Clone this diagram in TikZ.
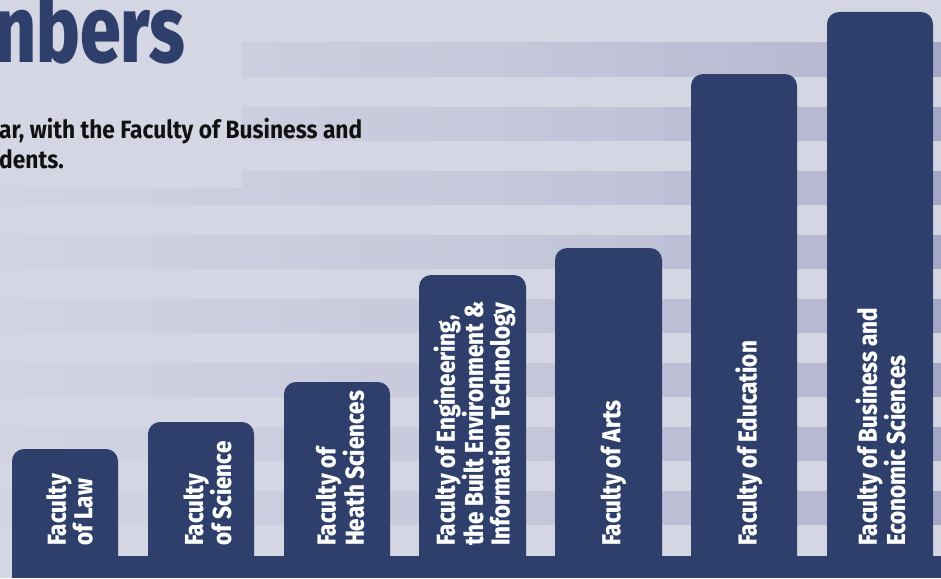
\documentclass[tikz,border=0pt]{standalone}
\usepackage{fontspec}
\newfontfamily\condfont{Fira Sans}[FakeStretch=0.86, BoldFont={Fira Sans ExtraBold}]
\newfontfamily\titlefont{Fira Sans}[FakeStretch=0.77, BoldFont={Fira Sans ExtraBold}]
\newfontfamily\subfont{Fira Sans}[FakeStretch=0.91]
\definecolor{bg}{HTML}{D4D6E4}
\definecolor{barblue}{HTML}{2E3F6B}
\definecolor{sA}{HTML}{D2D4E2}
\definecolor{sB}{HTML}{C7C9DC}
\definecolor{sC}{HTML}{B7B9D2}
\definecolor{sD}{HTML}{A4A7C6}
\definecolor{subtext}{HTML}{111111}
\begin{document}
\begin{tikzpicture}[x=1pt,y=-1pt,
  barbox/.style={fill=barblue, rounded corners=12pt},
  lbl/.style={rotate=90, anchor=west, inner sep=0pt, align=left, text=white,
    font=\condfont\bfseries\fontsize{26}{26.5}\selectfont},
  subline/.style={anchor=base west, inner sep=0pt, text=subtext,
    font=\subfont\bfseries\fontsize{25}{29}\selectfont}]
\useasboundingbox (0,0) rectangle (941,578);
\clip (0,0) rectangle (941,578);
\fill[bg] (0,0) rectangle (941,578);
% stripes
\foreach \k in {0,...,7}{
  \pgfmathsetmacro{\ya}{43+64*\k}
  \pgfmathsetmacro{\yb}{76+64*\k}
  \shade[left color=sA, right color=sB] (0,\ya) rectangle (470.5,\yb);
  \shade[left color=sB, right color=sC] (470,\ya) rectangle (830.5,\yb);
  \shade[left color=sC, right color=sD] (830,\ya) rectangle (941,\yb);
}
% plain area behind the heading
\fill[bg] (0,0) rectangle (242,188);
% heading
\node[anchor=base west, inner sep=0pt, text=barblue,
  font=\titlefont\bfseries\fontsize{95}{95}\selectfont] (title) at (-6,63) {nbers};
\node[subline] (sub1) at (-1,138) {ar, with the Faculty of Business and};
\node[subline] (sub2) at (-1,168) {dents.};
% bars
\fill[barblue] (12,556) rectangle (941,578);
\fill[barbox] (12,570) rectangle (118,449);
\fill[barbox] (148,570) rectangle (254,422);
\fill[barbox] (284,570) rectangle (390,382);
\fill[barbox] (419,570) rectangle (526,275);
\fill[barbox] (555,570) rectangle (662,248);
\fill[barbox] (691,570) rectangle (797,74);
\fill[barbox] (827,570) rectangle (933,12);
% labels
\node[lbl] (law) at (69.5,546) {Faculty\\of Law};
\node[lbl] (sci) at (207.5,546) {Faculty\\of Science};
\node[lbl] (hea) at (340,546) {Faculty of\\Heath Sciences};
\node[lbl] (eng) at (474.5,546) {Faculty of Engineering,\\the Built Environment \&\\Information Technology};
\node[lbl] (art) at (613.5,546) {Faculty of Arts};
\node[lbl] (edu) at (749,546) {Faculty of Education};
\node[lbl] (bus) at (880.5,546) {Faculty of Business and\\Economic Sciences};
\end{tikzpicture}
\end{document}
